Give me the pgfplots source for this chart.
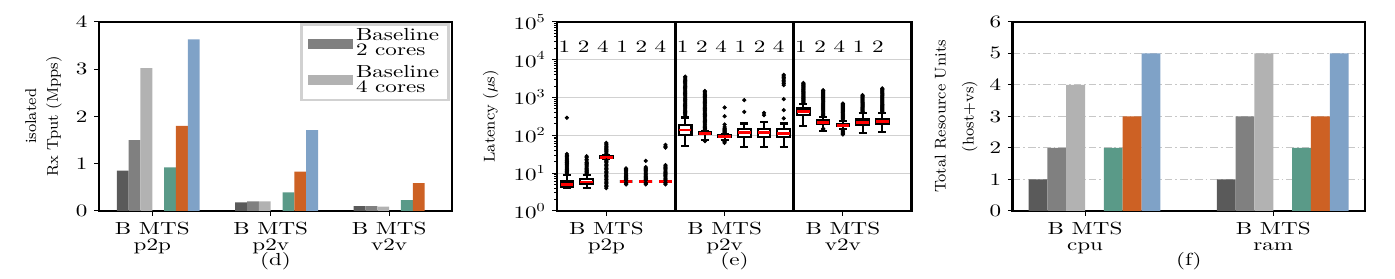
\documentclass[border=0pt]{standalone}
\usepackage{fontspec}
\setmainfont{lmroman10-regular.otf}[FakeStretch=1.32]
\newfontfamily\rotfont{lmroman8-regular.otf}
\usepackage{pgfplots}
\pgfplotsset{compat=1.18}
\usepgfplotslibrary{statistics}
\definecolor{cdark}{HTML}{5A5A5A}
\definecolor{cmid}{HTML}{808080}
\definecolor{clight}{HTML}{B2B2B2}
\definecolor{cteal}{HTML}{5A9A88}
\definecolor{corange}{HTML}{CD6124}
\definecolor{cblue}{HTML}{7FA2C7}
\pgfplotsset{
  common/.style={
    scale only axis, height=99.5pt, anchor=south west, clip=false,
    axis line style={line width=1.4pt},
    tick style={black, line width=0.5pt},
    tick align=outside,
    major tick length=2.5pt, minor tick length=1.5pt,
    xtick pos=bottom, ytick pos=left,
    /pgf/number format/assume math mode=true,
    xticklabel style={align=center, font=\fontsize{9.2pt}{8.3pt}\selectfont},
    yticklabel style={font=\fontsize{9.2pt}{11pt}\selectfont},
    every axis x label/.style={at={(axis description cs:0.5,0)}, anchor=center, yshift=-26.6pt, font=\fontsize{9.2pt}{11pt}\selectfont},
  },
  mybar/.style={ybar, bar width=0.1, bar shift=0pt, draw=none},
  bx/.style={black, solid, mark=*, mark size=0.9pt, mark options={black, fill=black}},
}
\tikzset{rotlab/.style={rotate=90, anchor=center, inner sep=0pt, font=\rotfont\fontsize{8.2pt}{10pt}\selectfont}}
\begin{document}
\begin{tikzpicture}[font=\fontsize{9.2pt}{11pt}\selectfont]
\path[use as bounding box] (0,0) rectangle (734.2pt,146.8pt);

% ---------------- (d)
\begin{axis}[common, at={(52.1pt,35.8pt)}, width=185.8pt,
  xmin=-0.45, xmax=2.531, ymin=0, ymax=4, ytick={0,1,2,3,4},
  xtick={0,1,2}, xticklabels={{B MTS\\p2p},{B MTS\\p2v},{B MTS\\v2v}},
  xlabel={(d)},
  legend style={at={(0.994,0.993)}, anchor=north east, draw=black!18, line width=1.3pt,
    font=\fontsize{9.2pt}{7.9pt}\selectfont, cells={align=left, anchor=west},
    nodes={inner sep=1.5pt}, inner xsep=3.5pt, inner ysep=0.8pt, row sep=0.5pt},
]
\addplot[mybar, fill=cdark, forget plot] coordinates {(-0.25,0.85) (0.75,0.18) (1.75,0.10)};
\addplot[mybar, fill=cmid, legend image code/.code={\fill[cmid] (0pt,-2.6pt) rectangle (23.7pt,2.6pt);}] coordinates {(-0.15,1.50) (0.85,0.20) (1.85,0.10)};
\addlegendentry{Baseline\\2 cores}
\addplot[mybar, fill=clight, legend image code/.code={\fill[clight] (0pt,-2.6pt) rectangle (23.7pt,2.6pt);}] coordinates {(-0.05,3.02) (0.95,0.20) (1.95,0.09)};
\addlegendentry{Baseline\\4 cores}
\addplot[mybar, fill=cteal, forget plot] coordinates {(0.15,0.92) (1.15,0.39) (2.15,0.23)};
\addplot[mybar, fill=corange, forget plot] coordinates {(0.25,1.80) (1.25,0.83) (2.25,0.59)};
\addplot[mybar, fill=cblue, forget plot] coordinates {(0.35,3.63) (1.35,1.71)};
\node[rotlab] at (axis description cs:-0.193,0.5) {isolated};
\node[rotlab] at (axis description cs:-0.1275,0.5) {Rx Tput (Mpps)};
\end{axis}

% ---------------- (e)
\begin{axis}[common, at={(293.2pt,35.8pt)}, width=186.7pt,
  ymode=log, xmin=0, xmax=18, ymin=1, ymax=100000,
  ytick={1,10,100,1000,10000,100000},
  yticklabels={10\textsuperscript{0},10\textsuperscript{1},10\textsuperscript{2},10\textsuperscript{3},10\textsuperscript{4},10\textsuperscript{5}},
  ymajorgrids, major grid style={black!18, line width=0.6pt},
  xtick={2.5,8.5,14.5}, xticklabels={{B MTS\\p2p},{B MTS\\p2v},{B MTS\\v2v}},
  xlabel={(e)},
  boxplot/draw direction=y, boxplot/box extend=0.64, boxplot/whisker extend=0.4,
  boxplot/every box/.style={draw=black, fill=white, line width=1.1pt},
  boxplot/every whisker/.style={black, line width=1.1pt},
  boxplot/every median/.style={red, line width=1.5pt},
]
\addplot[black, line width=1.4pt, forget plot] coordinates {(6,1) (6,100000)};
\addplot[black, line width=1.4pt, forget plot] coordinates {(12,1) (12,100000)};
% p2p
\addplot[bx, boxplot prepared={draw position=0.5, lower whisker=4.0, lower quartile=4.3, median=5.0, upper quartile=6.0, upper whisker=8.8}]
 table[row sep=\\, y index=0] {d\\9.5\\10.2\\11\\11.8\\12.6\\13.5\\14.5\\15.5\\16.6\\17.8\\19\\20.4\\21.8\\23.4\\25\\27\\29\\32\\290\\};
\addplot[bx, boxplot prepared={draw position=1.5, lower whisker=4.0, lower quartile=5.1, median=5.8, upper quartile=6.9, upper whisker=9.0}]
 table[row sep=\\, y index=0] {d\\9.6\\10.3\\11\\11.8\\12.6\\13.5\\14.5\\15.5\\16.6\\17.8\\19\\21\\23\\25.5\\28\\};
\addplot[bx, boxplot prepared={draw position=2.5, lower whisker=24, lower quartile=25.5, median=26.5, upper quartile=28, upper whisker=30}]
 table[row sep=\\, y index=0] {d\\4\\4.4\\4.8\\5.2\\5.7\\6.2\\6.8\\7.4\\8\\8.7\\9.5\\10.3\\11.2\\12.2\\13.3\\14.5\\15.8\\17.2\\18.7\\20.3\\22\\32\\34\\36.5\\39\\42\\45\\48\\51.5\\55\\59\\63\\};
\addplot[bx, boxplot prepared={draw position=3.5, lower whisker=6, lower quartile=6, median=6, upper quartile=6, upper whisker=6}]
 table[row sep=\\, y index=0] {d\\5\\5.4\\5.7\\6.4\\6.8\\7.2\\7.7\\8.2\\8.8\\9.4\\10\\10.8\\11.6\\12.5\\13.3\\};
\addplot[bx, boxplot prepared={draw position=4.5, lower whisker=6, lower quartile=6, median=6, upper quartile=6, upper whisker=6}]
 table[row sep=\\, y index=0] {d\\5\\5.3\\5.6\\6.4\\6.8\\7.2\\7.7\\8.2\\8.8\\9.4\\10\\10.8\\11.6\\12.5\\13.4\\14.3\\21\\};
\addplot[bx, boxplot prepared={draw position=5.5, lower whisker=6.1, lower quartile=6.1, median=6.1, upper quartile=6.1, upper whisker=6.1}]
 table[row sep=\\, y index=0] {d\\5\\5.4\\5.7\\6.5\\6.9\\7.4\\7.9\\8.5\\9.1\\9.8\\10.5\\11.3\\12.2\\13.1\\14.1\\15.2\\16.3\\47\\51\\56\\};
% p2v
\addplot[bx, boxplot prepared={draw position=6.5, lower whisker=51, lower quartile=102, median=138, upper quartile=186, upper whisker=295}]
 table[row sep=\\, y index=0] {d\\320\\345\\370\\400\\430\\460\\495\\530\\570\\615\\660\\710\\765\\820\\880\\950\\1020\\1100\\1180\\1270\\1370\\1470\\1580\\1700\\1830\\1970\\2120\\2280\\2450\\2640\\2840\\3060\\3300\\3550\\};
\addplot[bx, boxplot prepared={draw position=7.5, lower whisker=75, lower quartile=106, median=114, upper quartile=121, upper whisker=130}]
 table[row sep=\\, y index=0] {d\\70\\140\\150\\161\\173\\186\\200\\215\\231\\248\\267\\287\\308\\331\\356\\383\\412\\443\\476\\512\\550\\592\\636\\684\\735\\790\\850\\914\\983\\1057\\1136\\1222\\1314\\1412\\1490\\};
\addplot[bx, boxplot prepared={draw position=8.5, lower whisker=74, lower quartile=92, median=95, upper quartile=99, upper whisker=108}]
 table[row sep=\\, y index=0] {d\\63\\67\\70\\113\\118\\124\\130\\136\\143\\151\\165\\194\\320\\545\\};
\addplot[bx, boxplot prepared={draw position=9.5, lower whisker=49, lower quartile=91, median=118, upper quartile=145, upper whisker=205}]
 table[row sep=\\, y index=0] {d\\415\\850\\};
\addplot[bx, boxplot prepared={draw position=10.5, lower whisker=50, lower quartile=91, median=118, upper quartile=148, upper whisker=226}]
 table[row sep=\\, y index=0] {d\\340\\390\\};
\addplot[bx, boxplot prepared={draw position=11.5, lower whisker=50, lower quartile=88, median=113, upper quartile=145, upper whisker=205}]
 table[row sep=\\, y index=0] {d\\280\\460\\900\\2130\\2350\\2600\\2850\\3100\\3400\\3700\\3950\\};
% v2v
\addplot[bx, boxplot prepared={draw position=12.5, lower whisker=174, lower quartile=340, median=415, upper quartile=510, upper whisker=690}]
 table[row sep=\\, y index=0] {d\\720\\760\\800\\845\\890\\940\\990\\1045\\1100\\1160\\1225\\1290\\1360\\1435\\1510\\1595\\1680\\1770\\1870\\1970\\2080\\2190\\2310\\2420\\};
\addplot[bx, boxplot prepared={draw position=13.5, lower whisker=130, lower quartile=195, median=218, upper quartile=250, upper whisker=300}]
 table[row sep=\\, y index=0] {d\\140\\150\\320\\340\\362\\385\\410\\436\\464\\494\\526\\560\\596\\634\\675\\718\\764\\813\\865\\920\\980\\1043\\1110\\1181\\1257\\1338\\1424\\1515\\1560\\};
\addplot[bx, boxplot prepared={draw position=14.5, lower whisker=150, lower quartile=178, median=185, upper quartile=193, upper whisker=240}]
 table[row sep=\\, y index=0] {d\\105\\112\\120\\128\\137\\255\\272\\290\\309\\329\\350\\373\\397\\423\\450\\479\\510\\543\\578\\615\\655\\690\\};
\addplot[bx, boxplot prepared={draw position=15.5, lower whisker=116, lower quartile=188, median=222, upper quartile=262, upper whisker=380}]
 table[row sep=\\, y index=0] {d\\400\\425\\450\\477\\506\\537\\570\\605\\642\\681\\723\\767\\814\\864\\917\\973\\1033\\1096\\1150\\};
\addplot[bx, boxplot prepared={draw position=16.5, lower whisker=123, lower quartile=196, median=236, upper quartile=277, upper whisker=380}]
 table[row sep=\\, y index=0] {d\\400\\425\\450\\477\\506\\537\\570\\605\\642\\681\\723\\767\\814\\864\\917\\973\\1033\\1096\\1163\\1234\\1310\\1390\\1475\\1565\\1650\\1730\\};
\node[anchor=base west, inner sep=0pt] at (axis cs:0.06,15000) {1 2 4 1 2 4};
\node[anchor=base west, inner sep=0pt] at (axis cs:6.06,15000) {1 2 4 1 2 4};
\node[anchor=base west, inner sep=0pt] at (axis cs:12.06,15000) {1 2 4 1 2};
\node[rotlab] at (axis description cs:-0.187,0.5) {Latency ($\mu$s)};
\end{axis}

% ---------------- (f)
\begin{axis}[common, at={(533pt,35.8pt)}, width=185.4pt,
  xmin=-0.384, xmax=1.487, ymin=0, ymax=6, ytick={0,1,2,3,4,5,6},
  ymajorgrids, major grid style={black!22, line width=0.5pt, dash pattern=on 4pt off 1.5pt on 1pt off 1.5pt},
  xtick={0,1}, xticklabels={{B MTS\\cpu},{B MTS\\ram}},
  xlabel={(f)},
]
\addplot[mybar, fill=cdark] coordinates {(-0.25,1) (0.75,1)};
\addplot[mybar, fill=cmid] coordinates {(-0.15,2) (0.85,3)};
\addplot[mybar, fill=clight] coordinates {(-0.05,4) (0.95,5)};
\addplot[mybar, fill=cteal] coordinates {(0.15,2) (1.15,2)};
\addplot[mybar, fill=corange] coordinates {(0.25,3) (1.25,3)};
\addplot[mybar, fill=cblue] coordinates {(0.35,5) (1.35,5)};
\node[rotlab] at (axis description cs:-0.2055,0.5) {Total Resource Units};
\node[rotlab] at (axis description cs:-0.122,0.5) {(host+vs)};
\end{axis}
\end{tikzpicture}
\end{document}
